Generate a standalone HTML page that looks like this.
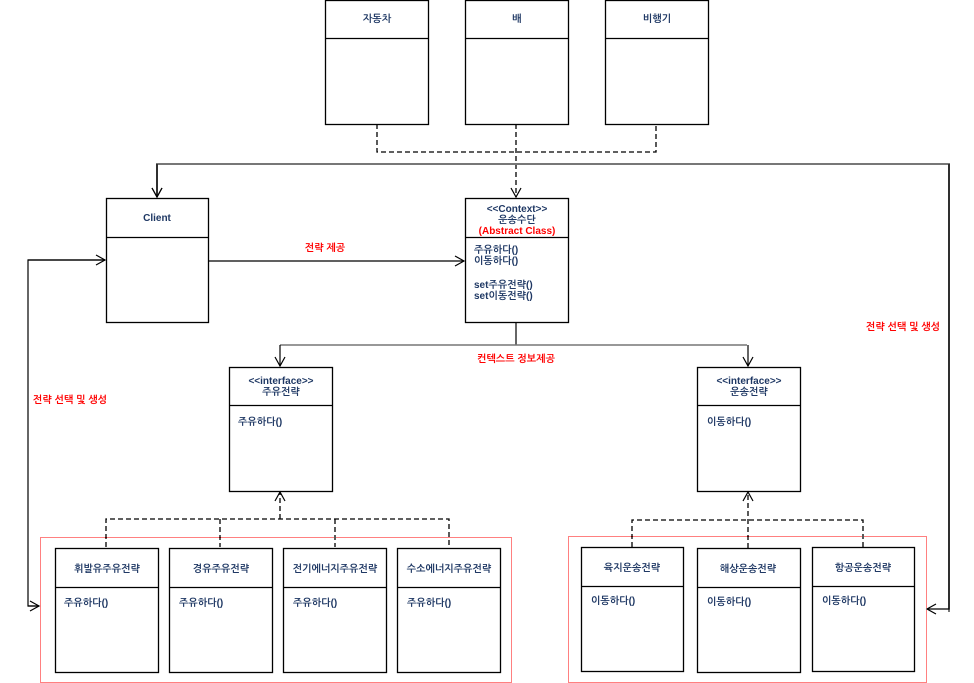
<!DOCTYPE html>
<html><head><meta charset="utf-8"><style>
html,body{margin:0;padding:0;background:#fff;}
svg{display:block;}
text{font-family:"Liberation Sans","NanumGothic","Noto Sans CJK KR",sans-serif;font-size:10px;font-weight:bold;fill:#1f3864;}
.r{fill:#ff0000;}
.c{text-anchor:middle;}
</style></head><body>
<svg width="974" height="683" viewBox="0 0 974 683" xmlns="http://www.w3.org/2000/svg">
<defs>
<marker id="a" markerWidth="12" markerHeight="12" refX="10" refY="6" orient="auto" markerUnits="userSpaceOnUse">
<path d="M1,1 L10,6 L1,11" fill="none" stroke="#000" stroke-width="1.2"/></marker>
</defs>
<g fill="#fff" stroke="#000" stroke-width="1.3">
<!-- top boxes -->
<rect x="325.5" y="0.5" width="103" height="124"/><line x1="325" y1="38.5" x2="428" y2="38.5"/>
<rect x="465.5" y="0.5" width="103" height="124"/><line x1="465" y1="38.5" x2="568" y2="38.5"/>
<rect x="605.5" y="0.5" width="103" height="124"/><line x1="605" y1="38.5" x2="708" y2="38.5"/>
<!-- client -->
<rect x="106.5" y="198.5" width="102" height="124"/><line x1="106" y1="237.5" x2="208" y2="237.5"/>
<!-- context -->
<rect x="465.5" y="198.5" width="103" height="124"/><line x1="465" y1="237.5" x2="568" y2="237.5"/>
<!-- interfaces -->
<rect x="229.5" y="367.5" width="103" height="124"/><line x1="229" y1="405.5" x2="332" y2="405.5"/>
<rect x="697.5" y="367.5" width="103" height="124"/><line x1="697" y1="405.5" x2="800" y2="405.5"/>
<!-- left subclasses -->
<rect x="55.5" y="548.5" width="103" height="124"/><line x1="55" y1="587.5" x2="158" y2="587.5"/>
<rect x="169.5" y="548.5" width="103" height="124"/><line x1="169" y1="587.5" x2="272" y2="587.5"/>
<rect x="283.5" y="548.5" width="103" height="124"/><line x1="283" y1="587.5" x2="386" y2="587.5"/>
<rect x="397.5" y="548.5" width="103" height="124"/><line x1="397" y1="587.5" x2="500" y2="587.5"/>
<!-- right subclasses -->
<rect x="581.5" y="547.5" width="102" height="124"/><line x1="581" y1="586.5" x2="683" y2="586.5"/>
<rect x="697.5" y="548.5" width="103" height="124"/><line x1="697" y1="587.5" x2="800" y2="587.5"/>
<rect x="812.5" y="547.5" width="102" height="124"/><line x1="812" y1="586.5" x2="914" y2="586.5"/>
</g>
<!-- red dotted groups -->
<rect x="40.5" y="537.5" width="471" height="145" fill="none" stroke="#ff0000" stroke-width="1" stroke-dasharray="1,1"/>
<rect x="568.5" y="536.5" width="358" height="146" fill="none" stroke="#ff0000" stroke-width="1" stroke-dasharray="1,1"/>
<!-- dashed top -->
<g fill="none" stroke="#000" stroke-width="1.3" stroke-dasharray="5,3">
<polyline points="377,124 377,152 656,152 656,124"/>
<line x1="516" y1="124" x2="516" y2="197" marker-end="url(#a)"/>
<polyline points="106,547 106,519 449,519 449,547"/>
<line x1="220" y1="519" x2="220" y2="547"/>
<line x1="335" y1="519" x2="335" y2="547"/>
<line x1="280" y1="519" x2="280" y2="492" marker-end="url(#a)"/>
<polyline points="632,547 632,520 863,520 863,547"/>
<line x1="748" y1="548" x2="748" y2="492" marker-end="url(#a)"/>
</g>
<!-- solid connectors -->
<g fill="none" stroke="#000" stroke-width="1.2">
<polyline points="949,612 949,164 157,164 157,197" stroke="#777" stroke-width="2" marker-end="url(#a)"/>
<polyline points="949,164 949,609 927,609" marker-end="url(#a)"/>
<line x1="157" y1="164" x2="157" y2="197" marker-end="url(#a)"/>
<polyline points="105,260 28,260 28,606 39,606"/>
<line x1="28" y1="260" x2="105" y2="260" marker-end="url(#a)"/>
<line x1="28" y1="606" x2="39" y2="606" marker-end="url(#a)"/>
<line x1="208" y1="261" x2="464" y2="261" marker-end="url(#a)"/>
<line x1="516" y1="322" x2="516" y2="345"/>
<line x1="280" y1="345" x2="747" y2="345" stroke="#777" stroke-width="1.5"/>
<line x1="280" y1="345" x2="280" y2="366" marker-end="url(#a)"/>
<line x1="748" y1="345" x2="748" y2="366" marker-end="url(#a)"/>
</g>
<!-- labels -->
<text class="c" x="377" y="22">자동차</text>
<text class="c" x="517" y="22">배</text>
<text class="c" x="657" y="22">비행기</text>
<text class="c" x="157" y="221">Client</text>
<text class="c" x="517" y="212">&lt;&lt;Context&gt;&gt;</text>
<text class="c" x="517" y="223">운송수단</text>
<text class="c r" x="517" y="234">(Abstract Class)</text>
<text x="474" y="253">주유하다()</text>
<text x="474" y="264">이동하다()</text>
<text x="474" y="288">set주유전략()</text>
<text x="474" y="299">set이동전략()</text>
<text class="c r" x="325" y="251">전략 제공</text>
<text class="c r" x="516" y="362">컨텍스트 정보제공</text>
<text class="c r" x="70" y="403">전략 선택 및 생성</text>
<text class="c r" x="903" y="330">전략 선택 및 생성</text>
<text class="c" x="281" y="384">&lt;&lt;interface&gt;&gt;</text>
<text class="c" x="281" y="395">주유전략</text>
<text x="238" y="425">주유하다()</text>
<text class="c" x="749" y="384">&lt;&lt;interface&gt;&gt;</text>
<text class="c" x="749" y="395">운송전략</text>
<text x="707" y="425">이동하다()</text>
<text class="c" x="107" y="572">휘발유주유전략</text>
<text class="c" x="221" y="572">경유주유전략</text>
<text class="c" x="335" y="572">전기에너지주유전략</text>
<text class="c" x="449" y="572">수소에너지주유전략</text>
<text x="64" y="606">주유하다()</text>
<text x="179" y="606">주유하다()</text>
<text x="293" y="606">주유하다()</text>
<text x="407" y="606">주유하다()</text>
<text class="c" x="632" y="571">육지운송전략</text>
<text class="c" x="748" y="572">해상운송전략</text>
<text class="c" x="863" y="571">항공운송전략</text>
<text x="591" y="604">이동하다()</text>
<text x="707" y="605">이동하다()</text>
<text x="822" y="604">이동하다()</text>
</svg>
</body></html>
